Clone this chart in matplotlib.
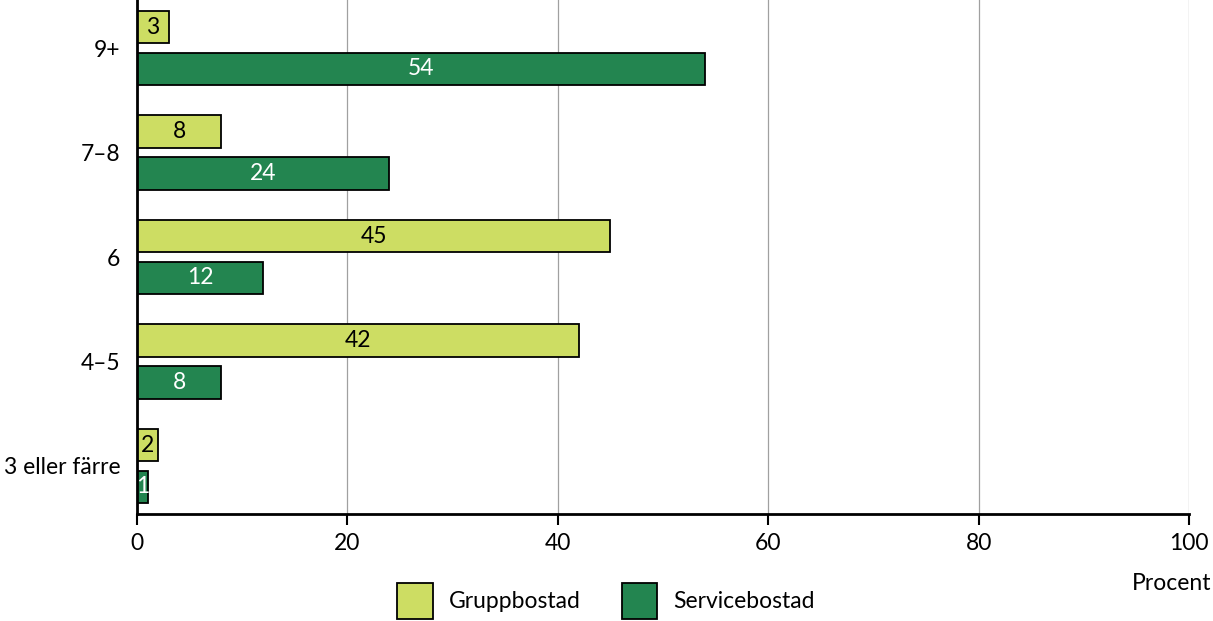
import matplotlib
matplotlib.use("Agg")
import matplotlib.pyplot as plt
from matplotlib.patches import Patch
import numpy as np

categories = ["3 eller färre", "4–5", "6", "7–8", "9+"]
gruppbostad = [2, 42, 45, 8, 3]
servicebostad = [1, 8, 12, 24, 54]
series_names = ["Gruppbostad", "Servicebostad"]
xticks = [0, 20, 40, 60, 80, 100]

light = "#cddd63"
dark = "#238550"

plt.rcParams['font.family'] = ['Lato', 'DejaVu Sans']
FS = 16.5

fig = plt.figure(figsize=(12.13, 6.21), dpi=100)
ax = fig.add_axes([137/1213, 1 - 514/621, (1189-137)/1213, 514/621])

y = np.arange(len(categories))
h = 0.31
off = 0.2
b1 = ax.barh(y + off, gruppbostad, height=h, color=light, edgecolor="black", linewidth=1.3, zorder=3)
b2 = ax.barh(y - off, servicebostad, height=h, color=dark, edgecolor="black", linewidth=1.3, zorder=3)

for bars, vals, tc in ((b1, gruppbostad, "black"), (b2, servicebostad, "white")):
    for bar, v in zip(bars, vals):
        ax.text(bar.get_x() + bar.get_width() / 2, bar.get_y() + bar.get_height() / 2,
                str(v), ha="center", va="center", color=tc, fontsize=FS, zorder=4)

ax.set_xlim(0, 100)
ax.set_ylim(-0.46, 4.46)
ax.set_xticks(xticks)
ax.set_xticklabels([str(t) for t in xticks], fontsize=FS)
ax.set_yticks(y)
ax.set_yticklabels(categories, fontsize=FS)
ax.tick_params(axis="y", length=0, pad=12)
ax.tick_params(axis="x", length=8, width=1.5, pad=6)
ax.grid(axis="x", color="#a0a0a0", linewidth=0.9, zorder=0)
for s in ["top", "right"]:
    ax.spines[s].set_visible(False)
for s in ["left", "bottom"]:
    ax.spines[s].set_linewidth(2)
    ax.spines[s].set_zorder(5)

fig.text(1211/1213, 1 - 583/621, "Procent", ha="right", va="center", fontsize=FS)

handles = [Patch(facecolor=light, edgecolor="black", linewidth=1.3),
           Patch(facecolor=dark, edgecolor="black", linewidth=1.3)]
fig.legend(handles, series_names, loc="center", bbox_to_anchor=(606/1213, 1 - 601/621),
           ncol=2, frameon=False, fontsize=FS, handlelength=1.55, handleheight=2.0,
           columnspacing=1.8, handletextpad=0.7, borderpad=0)

fig.savefig("out.png", dpi=100)
